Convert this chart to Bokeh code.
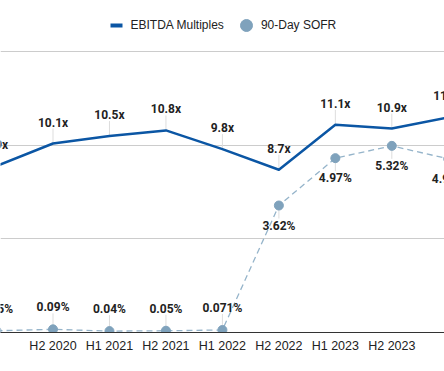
from bokeh.plotting import figure
from bokeh.models import ColumnDataSource, Range1d, FixedTicker, Legend, LegendItem
from bokeh.core.properties import value
from bokeh.embed import file_html
from bokeh.resources import INLINE

# ---- data ----
periods = ["H1 2020", "H2 2020", "H1 2021", "H2 2021", "H1 2022",
           "H2 2022", "H1 2023", "H2 2023", "H1 2024"]
ebitda = [8.9, 10.1, 10.5, 10.8, 9.8, 8.7, 11.1, 10.9, 11.5]
ebitda_labels = ["8.9x", "10.1x", "10.5x", "10.8x", "9.8x",
                 "8.7x", "11.1x", "10.9x", "11.5x"]
sofr = [0.05, 0.09, 0.04, 0.05, 0.071, 3.62, 4.97, 5.32, 4.95]
sofr_labels = ["0.05%", "0.09%", "0.04%", "0.05%", "0.071%",
               "3.62%", "4.97%", "5.32%", "4.95%"]
ebitda_ticks = [0, 5, 10, 15]
sofr_max = 8

# ---- layout ----
W, H = 444, 371
BOTTOM = 39
frame_h = H - BOTTOM
slot = 56.47
first_center = -3.97
x_start = -first_center / slot
x_end = x_start + W / slot
ppu = 18.71
y_end = frame_h / ppu
sofr_end = y_end * sofr_max / ebitda_ticks[-1]
sofr_ppu = frame_h / sofr_end

BLUE = "#0b56a4"
SOFR_PT = "#7fa2bc"
SOFR_LN = "#95b4ca"
TXT = "#222222"

xs = list(range(len(periods)))

p = figure(width=W, height=H, x_range=Range1d(x_start, x_end),
           y_range=Range1d(0, y_end), output_backend="svg",
           toolbar_location=None, min_border_left=0, min_border_right=0,
           min_border_top=0, min_border_bottom=BOTTOM)
p.extra_y_ranges = {"sofr": Range1d(0, sofr_end)}
p.outline_line_color = None
p.background_fill_color = "white"
p.border_fill_color = "white"

p.xgrid.visible = False
p.ygrid.ticker = FixedTicker(ticks=ebitda_ticks)
p.ygrid.grid_line_color = "#cccccc"
p.ygrid.grid_line_width = 1
p.yaxis.visible = False

xa = p.xaxis[0]
xa.ticker = FixedTicker(ticks=xs)
xa.major_label_overrides = {i: s for i, s in enumerate(periods)}
xa.major_tick_line_color = None
xa.minor_tick_line_color = None
xa.major_tick_out = 0
xa.major_tick_in = 0
xa.axis_line_color = "#333333"
xa.axis_line_width = 1
xa.major_label_standoff = 6
xa.major_label_text_font = "Liberation Sans"
xa.major_label_text_font_size = "12.5px"
xa.major_label_text_color = TXT

# ---- sources ----
e_src = ColumnDataSource(dict(
    x=xs, y=ebitda, label=ebitda_labels,
    stem=[v + 15 / ppu for v in ebitda]))
s_src = ColumnDataSource(dict(
    x=xs, y=sofr, label=sofr_labels,
    dy=[20 if v > 1 else -22 for v in sofr],
    stem=[v - 13 / sofr_ppu if v > 1 else v + 16 / sofr_ppu for v in sofr]))

# stems
p.segment(x0="x", y0="y", x1="x", y1="stem", source=e_src,
          line_color="#dddddd", line_width=1)
p.segment(x0="x", y0="y", x1="x", y1="stem", source=s_src,
          y_range_name="sofr", line_color="#dddddd", line_width=1)

# SOFR dashed line + points
p.line("x", "y", source=s_src, y_range_name="sofr", line_color=SOFR_LN,
       line_width=1.3, line_dash="6 4")
pts = p.scatter("x", "y", source=s_src, y_range_name="sofr", size=9,
                fill_color=SOFR_PT, line_color=SOFR_PT)

# EBITDA line
p.line("x", "y", source=e_src, line_color=BLUE, line_width=2.5,
       line_join="round")
dash = p.scatter("x", "y", source=e_src, marker="dash", size=0,
                 line_color=BLUE, line_width=4)

# data labels
p.text(x="x", y="y", text="label", source=e_src, text_font=value("Roboto"),
       text_font_style="bold", text_font_size="12px", text_color=TXT,
       text_align="center", text_baseline="middle", y_offset=-21)
p.text(x="x", y="y", text="label", source=s_src, y_range_name="sofr",
       text_font=value("Roboto"), text_font_style="bold",
       text_font_size="12px", text_color=TXT, text_align="center",
       text_baseline="middle", y_offset="dy")

legend = Legend(items=[LegendItem(label="EBITDA Multiples", renderers=[dash]),
                       LegendItem(label="90-Day SOFR", renderers=[pts])],
                orientation="horizontal", location=(100.5, frame_h - 40),
                glyph_width=30, glyph_height=30, label_standoff=0,
                spacing=7, padding=0, margin=0,
                label_text_font="Liberation Sans", label_text_font_size="12px",
                label_text_color=TXT, label_text_baseline="middle",
                border_line_color=None, background_fill_alpha=0)
p.add_layout(legend)

html = file_html(p, INLINE)
html = html.replace("<head>", "<head>\n<style>html,body{margin:0;padding:0;overflow:hidden}</style>", 1)
open("out.html", "w").write(html)
